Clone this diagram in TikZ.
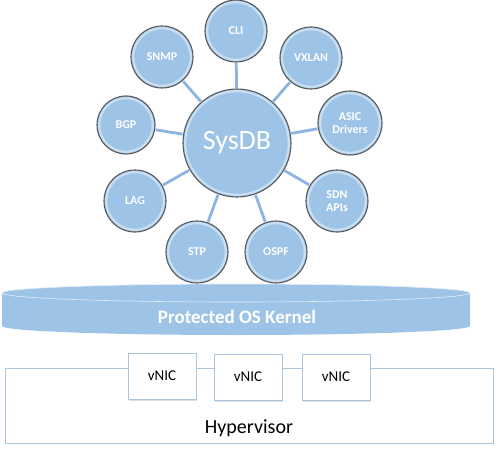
\documentclass[tikz,border=0pt]{standalone}
\usepackage{fontspec}
\setmainfont{Carlito}
\usetikzlibrary{shadows}
\definecolor{ballfill}{RGB}{157,195,230}
\definecolor{ballrim}{RGB}{90,90,90}
\definecolor{linkblue}{RGB}{141,179,226}
\definecolor{boxrim}{RGB}{169,196,222}
\tikzset{
  ball/.style={circle, fill=ballfill, draw=ballrim, line width=1.1pt, minimum size=2*#1, inner sep=0pt, align=center, text=white, font=\bfseries\fontsize{12}{13}\selectfont,
    path picture={\draw[white, opacity=0.45, line width=2.2pt] (path picture bounding box.center) circle[radius=#1-2.2pt];}},
  link/.style={draw=linkblue, line width=2.8pt},
  nicbox/.style={draw=boxrim, line width=0.9pt, fill=white, minimum width=68pt, minimum height=46pt, font=\fontsize{15}{17}\selectfont, drop shadow={shadow xshift=1pt, shadow yshift=-1.5pt, opacity=0.25}},
}
\begin{document}
\begin{tikzpicture}[x=1pt,y=-1pt]
\useasboundingbox (0,0) rectangle (502,473);
% kernel disc
\fill[ballfill] (2,293) -- (2,326) arc[start angle=180,end angle=0,x radius=234,y radius=9] -- (470,293) -- cycle;
\fill[ballfill] (236,293) ellipse[x radius=234,y radius=9];
\draw[white!70!ballfill, line width=0.6pt] (236,293) ellipse[x radius=234,y radius=9];
\node[text=white, font=\bfseries\fontsize{19}{21}\selectfont] (kernel) at (237,317) {Protected OS Kernel};
% hypervisor
\node[draw=boxrim, line width=0.9pt, minimum width=488pt, minimum height=75pt, anchor=north west, inner sep=0pt] (hyp) at (5,368) {};
\node[font=\fontsize{20}{22}\selectfont] (hyptext) at (249,428) {Hypervisor};
\node[nicbox] (nic1) at (162,376) {vNIC};
\node[nicbox] (nic2) at (248,377) {vNIC};
\node[nicbox] (nic3) at (336,377) {vNIC};
% balls
\node[ball=54pt, font=\fontsize{28}{30}\selectfont] (sys) at (237,143) {SysDB};
\node[ball=31pt] (cli) at (236,31) {CLI};
\node[ball=31pt] (snmp) at (162,57) {SNMP};
\node[ball=31pt] (vxlan) at (311,58) {VXLAN};
\node[ball=29pt] (bgp) at (126,125) {BGP};
\node[ball=32pt] (asic) at (350,123) {ASIC\\Drivers};
\node[ball=31pt] (lag) at (135,201) {LAG};
\node[ball=31pt] (sdn) at (337,201) {SDN\\APIs};
\node[ball=31pt] (stp) at (197,252) {STP};
\node[ball=31pt] (ospf) at (276,252) {OSPF};
\foreach \n in {cli,snmp,vxlan,bgp,asic,lag,sdn,stp,ospf}
  \draw[link, shorten <=0.6pt, shorten >=0.6pt] (sys) -- (\n);
\end{tikzpicture}
\end{document}
